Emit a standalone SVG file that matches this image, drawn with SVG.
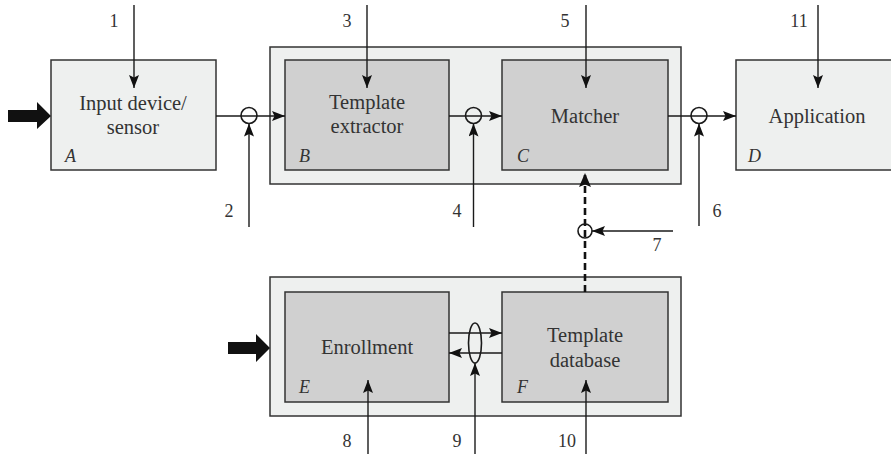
<svg xmlns="http://www.w3.org/2000/svg" width="891" height="454" viewBox="0 0 891 454">
<style>
.outer{fill:#eef0ef;stroke:#333;stroke-width:1.5}
.light{fill:#eef0ef;stroke:#333;stroke-width:1.5}
.dark{fill:#d0d0d0;stroke:#333;stroke-width:1.5}
.lbl{font-family:"Liberation Serif","Times New Roman",serif;font-size:20.5px;fill:#333;text-anchor:middle}
.num{font-family:"Liberation Serif","Times New Roman",serif;font-size:18px;fill:#333;text-anchor:middle}
.let{font-family:"Liberation Serif","Times New Roman",serif;font-size:18px;font-style:italic;fill:#333}
.ln{stroke:#1a1a1a;stroke-width:1.4;fill:none}
.arr{marker-end:url(#ah)}
.ring{fill:none;stroke:#1a1a1a;stroke-width:1.6}
.dash{stroke:#111;stroke-width:2.6;stroke-dasharray:7,4;fill:none;marker-end:url(#ahb)}
.thick{fill:#111}
</style>
<defs>
<marker id="ah" viewBox="0 0 13 10" refX="13" refY="5" markerWidth="13" markerHeight="10" markerUnits="userSpaceOnUse" orient="auto">
<path d="M0,0 L13,5 L0,10 L2.5,5 z" fill="#111"/>
</marker>
<marker id="ahb" viewBox="0 0 14 12" refX="14" refY="6" markerWidth="14" markerHeight="12" markerUnits="userSpaceOnUse" orient="auto">
<path d="M0,0 L14,6 L0,12 L2.5,6 z" fill="#111"/>
</marker>
</defs>

<g id="container-top"><rect class="outer" x="270" y="47" width="411" height="137"/></g>
<g id="container-bottom"><rect class="outer" x="270" y="277" width="411" height="139"/></g>

<g id="node-A">
<rect class="light" x="51" y="60" width="165" height="110"/>
<text class="lbl" x="133" y="110">Input device/</text>
<text class="lbl" x="133" y="134">sensor</text>
<text class="let" x="65" y="162">A</text>
</g>
<g id="node-B">
<rect class="dark" x="285" y="60" width="164" height="110"/>
<text class="lbl" x="367" y="109">Template</text>
<text class="lbl" x="367" y="133">extractor</text>
<text class="let" x="299" y="162">B</text>
</g>
<g id="node-C">
<rect class="dark" x="502" y="60" width="166" height="110"/>
<text class="lbl" x="585" y="123">Matcher</text>
<text class="let" x="517" y="162">C</text>
</g>
<g id="node-D">
<rect class="light" x="736" y="60" width="170" height="110"/>
<text class="lbl" x="817" y="123">Application</text>
<text class="let" x="748" y="162">D</text>
</g>
<g id="node-E">
<rect class="dark" x="285" y="292" width="164" height="110"/>
<text class="lbl" x="367" y="354">Enrollment</text>
<text class="let" x="299" y="393">E</text>
</g>
<g id="node-F">
<rect class="dark" x="502" y="292" width="166" height="110"/>
<text class="lbl" x="585" y="342">Template</text>
<text class="lbl" x="585" y="367">database</text>
<text class="let" x="517" y="393">F</text>
</g>

<g id="connectors">
<polygon class="thick" points="8,110 37,110 37,102 51,116 37,129 37,122 8,122"/>
<polygon class="thick" points="228,342 256,342 256,334 270,348 256,362 256,354 228,354"/>

<line class="ln arr" x1="216" y1="116" x2="285" y2="116"/>
<line class="ln arr" x1="449" y1="116" x2="502" y2="116"/>
<line class="ln arr" x1="668" y1="116" x2="736" y2="116"/>
<circle class="ring" cx="249" cy="115.5" r="8"/>
<circle class="ring" cx="473.5" cy="115.5" r="8"/>
<circle class="ring" cx="699" cy="115.5" r="8"/>

<line class="ln arr" x1="134" y1="5" x2="134" y2="88"/>
<line class="ln arr" x1="367" y1="5" x2="367" y2="88"/>
<line class="ln arr" x1="586" y1="5" x2="586" y2="88"/>
<line class="ln arr" x1="818" y1="5" x2="818" y2="88"/>

<line class="ln arr" x1="249" y1="227" x2="249" y2="123.5"/>
<line class="ln arr" x1="473.5" y1="227" x2="473.5" y2="123.5"/>
<line class="ln arr" x1="699" y1="226" x2="699" y2="123.5"/>

<line class="dash" x1="585" y1="292" x2="585" y2="173"/>
<circle class="ring" cx="585" cy="231" r="7"/>
<line class="ln arr" x1="673" y1="231" x2="592" y2="231"/>

<line class="ln arr" x1="449" y1="333" x2="502" y2="333"/>
<line class="ln arr" x1="502" y1="353" x2="449" y2="353"/>
<ellipse class="ring" cx="475" cy="343" rx="6.5" ry="20"/>

<line class="ln arr" x1="368" y1="454" x2="368" y2="380"/>
<line class="ln arr" x1="475" y1="454" x2="475" y2="363"/>
<line class="ln arr" x1="586" y1="454" x2="586" y2="380"/>

<text class="num" x="114" y="27">1</text>
<text class="num" x="229" y="217">2</text>
<text class="num" x="347" y="27">3</text>
<text class="num" x="457" y="217">4</text>
<text class="num" x="565" y="27">5</text>
<text class="num" x="717" y="217">6</text>
<text class="num" x="657" y="251">7</text>
<text class="num" x="347" y="447">8</text>
<text class="num" x="457" y="447">9</text>
<text class="num" x="567" y="447">10</text>
<text class="num" x="799" y="27">11</text>
</g>
</svg>
